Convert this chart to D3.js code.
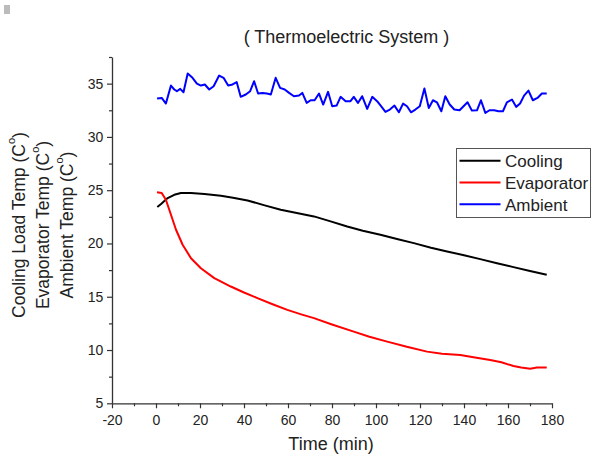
<!DOCTYPE html>
<html>
<head>
<meta charset="utf-8">
<script src="https://cdn.jsdelivr.net/npm/d3@7"></script>
<style>
body{margin:0;background:#fff;}
text{font-family:Arial,"Liberation Sans",sans-serif;fill:#222;}
</style>
</head>
<body>
<svg id="chart" width="595" height="459"></svg>
<script>
// series
var ambientTime = [0.5,2.6,4.5,6.8,8.3,9.5,11,12.5,14.4,16.6,18.6,20.4,22.2,24.2,26.2,28.7,30.7,32.8,34.8,36.7,38.5,40.8,42.8,44.6,46.4,48.4,50.4,52.2,54.4,56.4,58.5,60.5,62.7,65,66.5,68.5,70.3,72.1,74.1,76,78.2,80.1,82.1,83.9,86.2,88.4,89.9,91.8,93.7,96,98.3,100.5,102.3,104.3,106.3,108.4,110.4,112.3,114.1,115.9,117.9,119.9,122,124,125.9,127.7,129.7,131.5,133.5,135.6,138,139.8,141.6,143.6,145.9,147.7,149.7,151.6,153.7,155.7,157.7,159.5,161.8,163.7,165.5,167.3,169.3,171.3,173.4,175.4,177.6];
var ambientTemp = [33.6,33.66,33.13,34.82,34.45,34.29,34.51,34.19,35.95,35.55,35.0,34.82,34.92,34.45,34.76,35.76,35.55,34.82,34.92,35.14,33.76,33.98,34.29,35.23,34.07,34.13,34.07,33.98,35.55,34.6,34.45,34.13,33.82,33.88,34.13,33.19,33.44,33.44,34.07,33.04,34.23,32.88,32.94,33.76,33.35,33.35,33.76,33.19,33.82,32.63,33.76,33.35,32.88,32.35,32.57,32.94,32.31,33.13,32.88,32.31,32.57,32.88,34.54,32.72,33.44,33.25,32.41,33.82,33.04,32.57,32.5,32.88,33.25,32.47,32.5,33.44,32.25,32.5,32.5,32.41,32.41,33.25,33.5,32.82,33.13,33.88,34.35,33.44,33.66,34.07,34.07];

var coolingTime = [0.6,2.3,5.3,8.3,11.3,15.9,22,29.5,35,41.6,49,56.7,64,71.8,79,86.9,94,102,110,117.2,125,132.3,140,147.4,155,162.5,170,177.6];
var coolingTemp = [23.42,23.7,24.26,24.57,24.73,24.73,24.65,24.48,24.3,24.04,23.6,23.17,22.85,22.54,22.1,21.6,21.2,20.82,20.4,20.03,19.6,19.25,18.9,18.53,18.15,17.78,17.42,17.06];

var evapTime = [0.45,2.6,4.5,6.8,9.1,12.1,15.9,20.4,26.5,34,40,46.1,53,59.7,66,71.8,80,89.9,97,105.1,114,123.2,130,138.3,145,151.9,157,162.5,166,170.1,173.1,177.6];
var evapTemp = [24.8,24.73,24.1,22.7,21.29,19.88,18.62,17.68,16.75,15.96,15.4,14.87,14.3,13.77,13.35,12.99,12.4,11.73,11.25,10.79,10.3,9.85,9.65,9.54,9.3,9.07,8.85,8.5,8.35,8.25,8.35,8.35];

var seriesNames = ["Cooling","Evaporator","Ambient"];
var seriesColors = ["#000000","#ff0000","#0000ff"];
var xTicks = [-20,0,20,40,60,80,100,120,140,160,180];
var yTicks = [5,10,15,20,25,30,35];
var yLabels = ["Cooling Load Temp (C","Evaporator Temp (C","Ambient Temp (C"];

var svg = d3.select("#chart");

var x = d3.scaleLinear().domain([-20,180]).range([112,552]);
var y = d3.scaleLinear().domain([5,37.5]).range([403.3,57]);

// minor ticks
var xMinor = d3.range(-10,180,20);
var yMinor = d3.range(7.5,40,5);

var xAxis = svg.append("g").attr("transform","translate(0," + y(5) + ")")
    .call(d3.axisBottom(x).tickValues(xTicks).tickSize(5).tickSizeOuter(0).tickFormat(function(d){ return String(d); }));
svg.append("g").attr("transform","translate(0," + y(5) + ")")
    .call(d3.axisBottom(x).tickValues(xMinor).tickSize(3).tickSizeOuter(0).tickFormat(""))
    .select(".domain").remove();
var yAxis = svg.append("g").attr("transform","translate(" + x(-20) + ",0)")
    .call(d3.axisLeft(y).tickValues(yTicks).tickSize(5).tickSizeOuter(0));
svg.append("g").attr("transform","translate(" + x(-20) + ",0)")
    .call(d3.axisLeft(y).tickValues(yMinor).tickSize(3).tickSizeOuter(0).tickFormat(""))
    .select(".domain").remove();

svg.selectAll(".domain").attr("stroke","#333").attr("stroke-width",1.3);
svg.selectAll(".tick line").attr("stroke","#333").attr("stroke-width",1.2);
xAxis.selectAll("text").attr("font-size",14).attr("fill","#222").attr("dy","1.0em");
yAxis.selectAll("text").attr("font-size",14).attr("fill","#222").attr("dx","-0.05em");

function drawLine(ts, vs, color){
    var pts = ts.map(function(t,i){ return [t, vs[i]]; });
    svg.append("path")
        .datum(pts)
        .attr("fill","none")
        .attr("stroke",color)
        .attr("stroke-width",2)
        .attr("stroke-linejoin","round")
        .attr("d", d3.line().x(function(d){return x(d[0]);}).y(function(d){return y(d[1]);}));
}
drawLine(ambientTime, ambientTemp, seriesColors[2]);
drawLine(coolingTime, coolingTemp, seriesColors[0]);
drawLine(evapTime, evapTemp, seriesColors[1]);

// title
svg.append("text").attr("x",346.5).attr("y",43).attr("text-anchor","middle")
    .attr("font-size",18).text("( Thermoelectric System )");

// x label
svg.append("text").attr("x",331).attr("y",450).attr("text-anchor","middle")
    .attr("font-size",18).text("Time (min)");

// y labels, three stacked columns
yLabels.forEach(function(lbl,i){
    var t = svg.append("text")
        .attr("transform","translate(" + (25 + i*24) + ",225) rotate(-90)")
        .attr("text-anchor","middle").attr("font-size",17.5);
    t.append("tspan").text(lbl);
    t.append("tspan").attr("font-size",11).attr("dy","-0.9em").text("o");
    t.append("tspan").attr("dy","0.56em").text(")");
});

// legend
var lg = svg.append("g").attr("transform","translate(456.5,148.5)");
lg.append("rect").attr("width",134).attr("height",69)
    .attr("fill","#fff").attr("stroke","#555").attr("stroke-width",1);
seriesNames.forEach(function(n,i){
    var yy = 12.2 + i*21.8;
    lg.append("line").attr("x1",3).attr("x2",44).attr("y1",yy).attr("y2",yy)
        .attr("stroke",seriesColors[i]).attr("stroke-width",2);
    lg.append("text").attr("x",48.5).attr("y",yy+6.5).attr("font-size",17).text(n);
});

// small grey mark in the top-left corner of the scan
svg.append("rect").attr("x",4).attr("y",5).attr("width",6).attr("height",9).attr("fill","#bbb");
</script>
</body>
</html>
